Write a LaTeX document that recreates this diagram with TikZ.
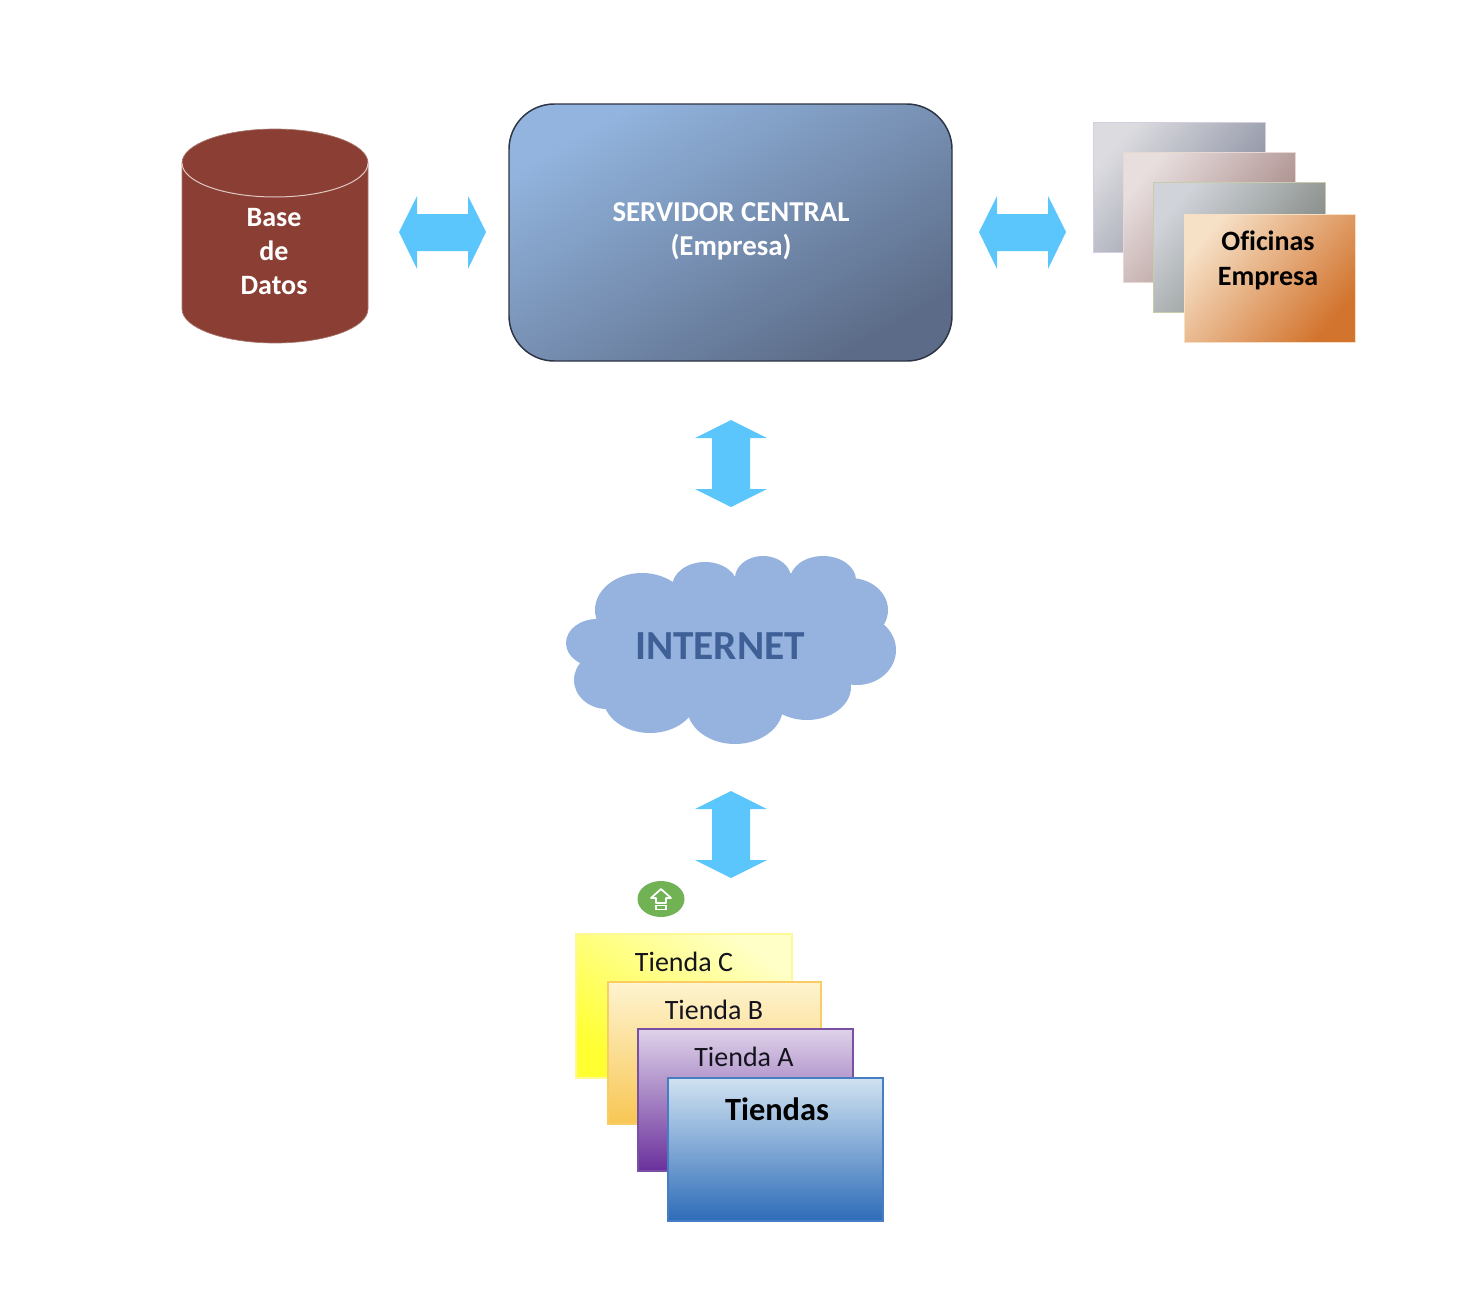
\documentclass[tikz,border=0pt]{standalone}
\usepackage{fontspec}
\setmainfont[Ligatures=NoCommon]{Carlito}
\definecolor{srvA}{RGB}{146,180,222}
\definecolor{srvB}{RGB}{124,150,188}
\definecolor{srvC}{RGB}{92,108,136}
\definecolor{ofiA1}{RGB}{220,220,224}
\definecolor{ofiA2}{RGB}{188,184,202}
\definecolor{ofiA3}{RGB}{130,136,155}
\definecolor{ofiB1}{RGB}{232,222,222}
\definecolor{ofiB2}{RGB}{208,188,188}
\definecolor{ofiB3}{RGB}{160,128,126}
\definecolor{ofiC1}{RGB}{208,212,218}
\definecolor{ofiC2}{RGB}{184,188,182}
\definecolor{ofiC3}{RGB}{120,126,120}
\definecolor{ofiD1}{RGB}{246,224,198}
\definecolor{ofiD2}{RGB}{232,194,158}
\definecolor{ofiD3}{RGB}{210,116,46}
\definecolor{tieC1}{RGB}{255,255,200}
\definecolor{tieC3}{RGB}{255,255,50}
\definecolor{tieB1}{RGB}{254,244,208}
\definecolor{tieB2}{RGB}{251,228,170}
\definecolor{tieB3}{RGB}{248,198,84}
\definecolor{tieA1}{RGB}{222,210,232}
\definecolor{tieA2}{RGB}{186,164,204}
\definecolor{tieA3}{RGB}{106,48,156}
\definecolor{tieT1}{RGB}{208,226,241}
\definecolor{tieT2}{RGB}{176,198,226}
\definecolor{tieT3}{RGB}{46,108,184}

\begin{document}
\begin{tikzpicture}[x=0.75pt,y=0.75pt,yscale=-1,xscale=1,
  blockarrow/.style={fill={rgb, 255:red, 91; green, 198; blue, 252 },draw=none},
  cloudlobe/.style={fill={rgb, 255:red, 149; green, 179; blue, 222 },draw=none},
  whitetext/.style={inner sep=0.75pt,align=center,text=white,font=\fontsize{21}{25.5}\selectfont\bfseries},
  blacktext/.style={inner sep=0.75pt,align=center,text=black,font=\fontsize{21}{26}\selectfont\bfseries},
  shoptext/.style={inner sep=0.75pt,text={rgb, 255:red, 20; green, 20; blue, 30 },font=\fontsize{21}{23}\selectfont}]
\useasboundingbox (0,0) rectangle (1465,1310);

%Shape: Can
\draw [fill={rgb, 255:red, 138; green, 62; blue, 52 },draw={rgb, 255:red, 170; green, 120; blue, 112 },line width=0.5]  (182,163) -- (182,309) arc (180:0:93 and 34) -- (368,163) arc (0:-180:93 and 34) -- cycle ;
\draw [draw={rgb, 255:red, 225; green, 200; blue, 195 },line width=0.75]  (182,163) arc (180:0:93 and 34) ;
% Text Node
\draw (274,252) node [whitetext] (basedatos) {Base\\de\\Datos};

%Shape: Rounded Rect
\draw [top color=srvA,middle color=srvB,bottom color=srvC,shading angle=30,draw={rgb, 255:red, 45; green, 52; blue, 68 },line width=1.1,rounded corners=34pt]  (509,104) rectangle (952,361) ;
% Text Node
\draw (731,231) node [whitetext,font=\fontsize{21.6}{25.5}\selectfont\bfseries] (servidor) {SERVIDOR CENTRAL\\(Empresa)};

%Shape: Stacked Rects
\draw [top color=ofiA1,middle color=ofiA2,bottom color=ofiA3,shading angle=50,draw={rgb, 255:red, 214; green, 206; blue, 224 },line width=0.75]  (1093,122) rectangle (1265,252) ;
\draw [top color=ofiB1,middle color=ofiB2,bottom color=ofiB3,shading angle=50,draw={rgb, 255:red, 232; green, 216; blue, 210 },line width=0.75]  (1123,152) rectangle (1295,282) ;
\draw [top color=ofiC1,middle color=ofiC2,bottom color=ofiC3,shading angle=50,draw={rgb, 255:red, 200; green, 204; blue, 172 },line width=0.75]  (1153,182) rectangle (1325,312) ;
\draw [top color=ofiD1,middle color=ofiD2,bottom color=ofiD3,shading angle=50,draw={rgb, 255:red, 248; green, 222; blue, 194 },line width=0.75]  (1184,214) rectangle (1355,342) ;
% Text Node
\draw (1268,260.5) node [blacktext] (oficinas) {Oficinas\\Empresa};

%Shape: Double Arrows
\path [blockarrow]  (399,232) -- (417,196) -- (417,214) -- (468,214) -- (468,196) -- (486,232) -- (468,269) -- (468,251) -- (417,251) -- (417,269) -- cycle ;
\path [blockarrow]  (979,232) -- (997,196) -- (997,214) -- (1048,214) -- (1048,196) -- (1066,232) -- (1048,269) -- (1048,251) -- (997,251) -- (997,269) -- cycle ;
\path [blockarrow]  (731,420) -- (767,438) -- (750,438) -- (750,489) -- (767,489) -- (731,507) -- (695,489) -- (712,489) -- (712,438) -- (695,438) -- cycle ;
\path [blockarrow]  (731,791) -- (767,809) -- (750,809) -- (750,860) -- (767,860) -- (731,878) -- (695,860) -- (712,860) -- (712,809) -- (695,809) -- cycle ;

%Shape: Cloud
\path [cloudlobe]  (642,610) ellipse [x radius=47,y radius=37] ;
\path [cloudlobe]  (705,587) ellipse [x radius=33,y radius=25] ;
\path [cloudlobe]  (763,578) ellipse [x radius=28,y radius=22] ;
\path [cloudlobe]  (823,580) ellipse [x radius=33,y radius=24] ;
\path [cloudlobe]  (850,610) ellipse [x radius=38,y radius=32] ;
\path [cloudlobe]  (857,650) ellipse [x radius=39,y radius=35] ;
\path [cloudlobe]  (807,687) ellipse [x radius=44,y radius=33] ;
\path [cloudlobe]  (735,707) ellipse [x radius=48,y radius=37] ;
\path [cloudlobe]  (650,697) ellipse [x radius=47,y radius=36] ;
\path [cloudlobe]  (607,680) ellipse [x radius=33,y radius=29] ;
\path [cloudlobe]  (597,643) ellipse [x radius=31,y radius=24] ;
\path [cloudlobe]  (730,645) ellipse [x radius=110,y radius=65] ;
\path [cloudlobe]  (790,605) ellipse [x radius=42,y radius=32] ;
% Text Node
\draw (720,646) node [inner sep=0.75pt,text={rgb, 255:red, 62; green, 96; blue, 150 },font=\fontsize{31}{36}\selectfont\bfseries] (internet) {INTERNET};

%Shape: Badge
\draw [fill={rgb, 255:red, 112; green, 178; blue, 84 },draw=none]  (661,899) ellipse [x radius=23.5,y radius=18] ;
\draw [draw=white,line width=1.3,line join=round]  (661,889) -- (671,898) -- (666,898) -- (666,903) -- (656,903) -- (656,898) -- (651,898) -- cycle ;
\draw [draw=white,line width=1.3]  (656,905.5) rectangle (666,909.5) ;

%Shape: Stacked Rects
\draw [top color=tieC1,bottom color=tieC3,shading angle=-35,draw={rgb, 255:red, 255; green, 248; blue, 150 },line width=1]  (576,934) rectangle (792,1078) ;
\draw [top color=tieB1,middle color=tieB2,bottom color=tieB3,draw={rgb, 255:red, 250; green, 205; blue, 100 },line width=1.1]  (608,982) rectangle (821,1124) ;
\draw [top color=tieA1,middle color=tieA2,bottom color=tieA3,draw={rgb, 255:red, 122; green, 80; blue, 165 },line width=1.1]  (638,1029) rectangle (853,1171) ;
\draw [top color=tieT1,middle color=tieT2,bottom color=tieT3,draw={rgb, 255:red, 70; green, 125; blue, 195 },line width=1.1]  (668,1078) rectangle (883,1221) ;
% Text Node
\draw (684,962) node [shoptext] (tiendac) {Tienda C};
% Text Node
\draw (714,1010) node [shoptext] (tiendab) {Tienda B};
% Text Node
\draw (744,1057) node [shoptext] (tiendaa) {Tienda A};
% Text Node
\draw (777,1109) node [inner sep=0.75pt,text=black,font=\fontsize{24.3}{28}\selectfont\bfseries] (tiendas) {Tiendas};

\end{tikzpicture}
\end{document}
